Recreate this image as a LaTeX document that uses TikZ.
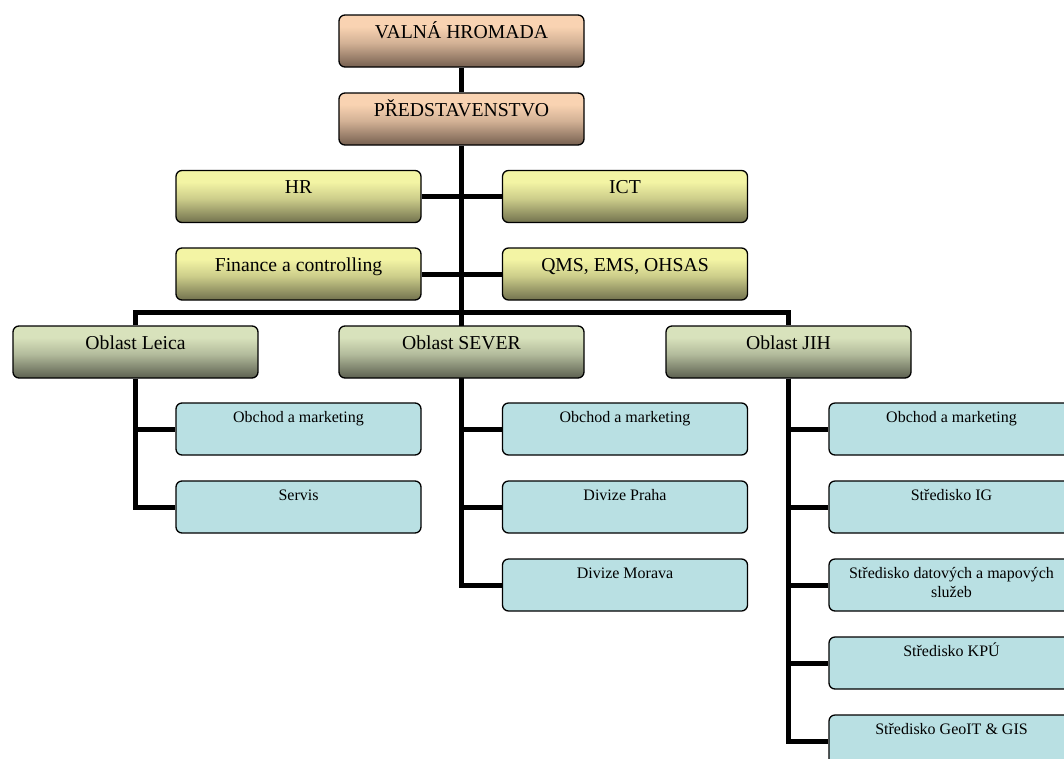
\documentclass[tikz,border=0pt]{standalone}
\usepackage{fontspec}
\setmainfont{Liberation Serif}
\usetikzlibrary{backgrounds}

\definecolor{tantop}{RGB}{249,211,178}
\definecolor{tanbot}{RGB}{118,96,80}
\definecolor{ylwtop}{RGB}{243,244,164}
\definecolor{ylwbot}{RGB}{114,114,78}
\definecolor{olvtop}{RGB}{216,226,188}
\definecolor{olvbot}{RGB}{92,96,80}
\definecolor{unitfill}{RGB}{185,224,227}

\pgfdeclareverticalshading{tanshade}{100bp}{color(0bp)=(tanbot); color(25bp)=(tanbot); color(48bp)=(tantop!70!tanbot); color(64bp)=(tantop); color(75bp)=(tantop); color(100bp)=(tantop)}
\pgfdeclareverticalshading{ylwshade}{100bp}{color(0bp)=(ylwbot); color(25bp)=(ylwbot); color(48bp)=(ylwtop!70!ylwbot); color(64bp)=(ylwtop); color(75bp)=(ylwtop); color(100bp)=(ylwtop)}
\pgfdeclareverticalshading{olvshade}{100bp}{color(0bp)=(olvbot); color(25bp)=(olvbot); color(48bp)=(olvtop!70!olvbot); color(64bp)=(olvtop); color(75bp)=(olvtop); color(100bp)=(olvtop)}

\newcommand\orgboxwidth{245pt}
\newcommand\orglinewidth{5pt}

\tikzset{
  orgbox/.style={draw=black, line width=1.3pt, rounded corners=6pt,
    minimum width=\orgboxwidth, inner ysep=0pt, inner xsep=4pt,
    text height=23pt, text depth=29pt, align=center,
    font=\fontsize{19.7}{23}\selectfont},
  boardbox/.style={orgbox, shading=tanshade},
  staffbox/.style={orgbox, shading=ylwshade},
  areabox/.style={orgbox, shading=olvshade},
  unitbox/.style={orgbox, fill=unitfill, text height=19pt, text depth=33pt,
    font=\fontsize{16}{19}\selectfont},
  unitbox2/.style={unitbox, text height=38pt, text depth=14pt},
  orgline/.style={line width=\orglinewidth, draw=black}
}

\begin{document}
\begin{tikzpicture}[x=1pt, y=-1pt]
  \useasboundingbox (0,0) rectangle (1064,758);

  \node[boardbox] (valna) at (461.5,41) {VALNÁ HROMADA};
  \node[boardbox] (predst) at (461.5,119) {PŘEDSTAVENSTVO};

  \node[staffbox] (hr) at (298.5,196.5) {HR};
  \node[staffbox] (ict) at (625,196.5) {ICT};
  \node[staffbox] (finance) at (298.5,274) {Finance a controlling};
  \node[staffbox] (qms) at (625,274) {QMS, EMS, OHSAS};

  \node[areabox] (leica) at (135.5,352) {Oblast Leica};
  \node[areabox] (sever) at (461.5,352) {Oblast SEVER};
  \node[areabox] (jih) at (788.5,352) {Oblast JIH};

  \node[unitbox] (leica-obchod) at (298.5,429) {Obchod a marketing};
  \node[unitbox] (leica-servis) at (298.5,507) {Servis};

  \node[unitbox] (sever-obchod) at (625,429) {Obchod a marketing};
  \node[unitbox] (sever-praha) at (625,507) {Divize Praha};
  \node[unitbox] (sever-morava) at (625,585) {Divize Morava};

  \node[unitbox] (jih-obchod) at (951.5,429) {Obchod a marketing};
  \node[unitbox] (jih-ig) at (951.5,507) {Středisko IG};
  \node[unitbox2] (jih-data) at (951.5,585) {Středisko datových a mapových\\služeb};
  \node[unitbox] (jih-kpu) at (951.5,663) {Středisko KPÚ};
  \node[unitbox] (jih-geoit) at (951.5,741) {Středisko GeoIT \& GIS};

  \begin{pgfonlayer}{background}
    \draw[orgline] (valna) -- (predst) |- (sever-morava.west);
    \draw[orgline] (hr) -- (ict);
    \draw[orgline] (finance) -- (qms);
    \draw[orgline] (leica.north) -- ++(0,-13) -| (jih.north);
    \draw[orgline] (leica) |- (leica-obchod.west);
    \draw[orgline] (leica) |- (leica-servis.west);
    \draw[orgline] (sever) |- (sever-obchod.west);
    \draw[orgline] (sever) |- (sever-praha.west);
    \draw[orgline] (jih) |- (jih-obchod.west);
    \draw[orgline] (jih) |- (jih-ig.west);
    \draw[orgline] (jih) |- (jih-data.west);
    \draw[orgline] (jih) |- (jih-kpu.west);
    \draw[orgline] (jih) |- (jih-geoit.west);
  \end{pgfonlayer}
\end{tikzpicture}
\end{document}
